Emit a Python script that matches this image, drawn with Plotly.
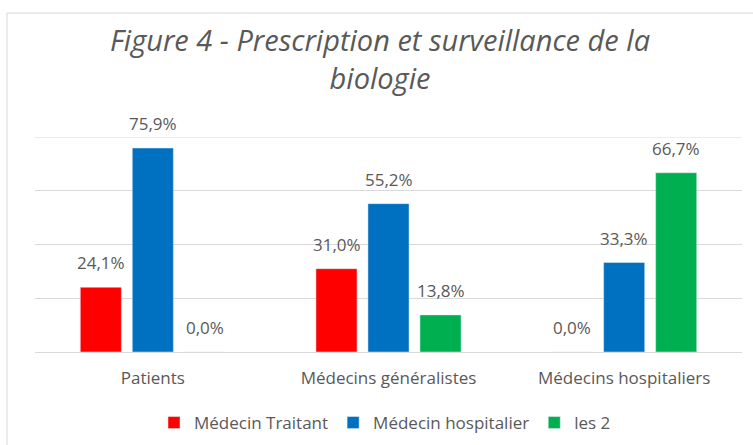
import plotly.graph_objects as go

categories = ["Patients", "Médecins généralistes", "Médecins hospitaliers"]
series_names = ["Médecin Traitant", "Médecin hospitalier", "les 2"]
medecin_traitant = [24.1, 31.0, 0.0]
medecin_hospitalier = [75.9, 55.2, 33.3]
les_2 = [0.0, 13.8, 66.7]
colors = ["#FF0000", "#0070C0", "#00B050"]
y_max = 80

FONT = "Open Sans, sans-serif"
TXT = "#595959"
GRID = "#D9D9D9"

def fmt(v):
    return f"{v:.1f}".replace(".", ",") + "%"

BARGAP = 0.338
all_series = [medecin_traitant, medecin_hospitalier, les_2]
nser = len(all_series)
slot = (1 - BARGAP) / nser

fig = go.Figure()
for si, (name, vals, col) in enumerate(zip(series_names, all_series, colors)):
    fig.add_trace(go.Bar(
        x=categories, y=vals, name=name,
        marker=dict(color=col),
        hoverinfo="skip",
    ))
    for ci, v in enumerate(vals):
        fig.add_annotation(
            x=ci + (si - (nser - 1) / 2) * slot, y=v, xref="x", yref="y",
            text=fmt(v), showarrow=False, yanchor="bottom", yshift=11,
            font=dict(size=17, color=TXT, family=FONT),
        )

W, H = 753, 445
l, r, t, b = 35, 11, 137, 93
pw, ph = W - l - r, H - t - b

def px_x(x):
    return (x - l) / pw

def px_y(y):
    return (H - b - y) / ph

fig.update_layout(
    width=W, height=H,
    margin=dict(l=l, r=r, t=t, b=b, autoexpand=False),
    paper_bgcolor="white", plot_bgcolor="white",
    barmode="group", bargap=BARGAP, bargroupgap=0.21,
    title=dict(
        text="<i>Figure 4 - Prescription et surveillance de la<br>biologie</i>",
        x=380 / W, xanchor="center", y=1 - 51 / H, yanchor="middle",
        font=dict(size=29, color=TXT, family=FONT),
    ),
    xaxis=dict(
        showgrid=False, showline=False, ticks="",
        tickfont=dict(size=17, color=TXT, family=FONT),
        ticklabelstandoff=14,
    ),
    yaxis=dict(
        range=[0, y_max], dtick=20, showticklabels=False,
        showgrid=True, gridcolor=GRID, gridwidth=1,
        zeroline=True, zerolinecolor=GRID, zerolinewidth=1,
    ),
    legend=dict(
        orientation="h", x=385 / W, xanchor="center",
        xref="container", yref="container", y=1 - 423 / H, yanchor="middle",
        font=dict(size=17, color=TXT, family=FONT),
        itemwidth=30,
    ),
    showlegend=True,
)

# top gridline at the axis maximum
fig.add_shape(type="line", xref="paper", yref="y", x0=0, x1=1, y0=y_max, y1=y_max,
              line=dict(color=GRID, width=1), layer="below")

# chart border (left and top edges visible)
fig.add_shape(type="line", xref="paper", yref="paper",
              x0=px_x(7), x1=px_x(7), y0=px_y(13), y1=px_y(445),
              line=dict(color=GRID, width=1))
fig.add_shape(type="line", xref="paper", yref="paper",
              x0=px_x(7), x1=px_x(753), y0=px_y(13), y1=px_y(13),
              line=dict(color=GRID, width=1))

fig.write_html("out.html", config={"displayModeBar": False},
               post_script="document.body.style.margin='0';document.body.style.padding='0';")
